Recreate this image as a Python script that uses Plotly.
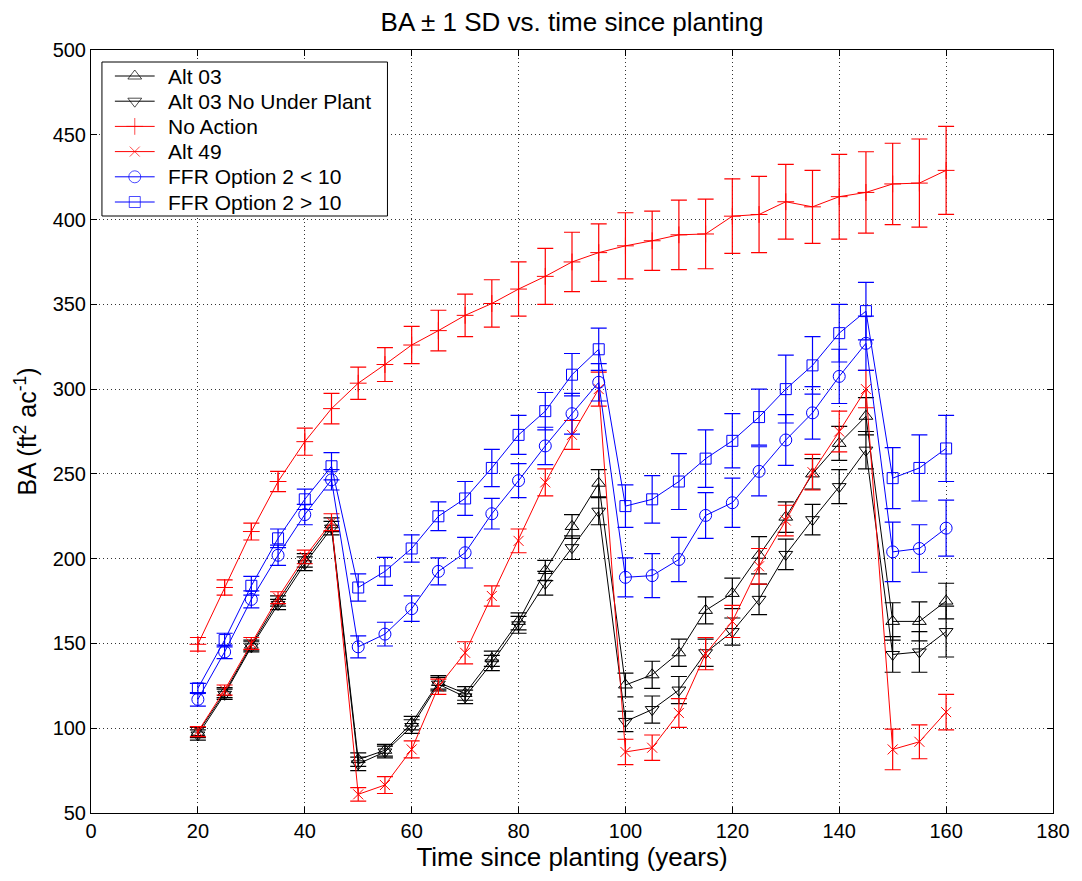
import plotly.graph_objects as go

# Time since planting (years)
years = [20, 25, 30, 35, 40, 45, 50, 55, 60, 65, 70, 75, 80, 85, 90, 95,
         100, 105, 110, 115, 120, 125, 130, 135, 140, 145, 150, 155, 160]

# Mean basal area (ft^2/ac) and one standard deviation for each scenario
alt03 = [97.5, 121, 149, 175, 199, 220, 81.5, 87, 103, 127, 120.5, 141, 163, 193, 219, 244.5,
         125.5, 131.5, 144.5, 169.5, 179.5, 202, 224.5, 250, 268, 284, 163, 163, 175]
alt03_sd = [3, 3, 3, 3, 4, 4, 4, 3.5, 4, 4, 4, 4.5, 5, 6, 7, 8,
            7, 8, 8, 8, 9, 11, 9, 9, 10, 11, 11, 11.5, 10.5]

alt03_nup = [96, 120, 148, 173, 197, 218, 79, 86, 101, 126, 118.5, 138.5, 161, 185.5, 206.5, 228,
             104, 111, 122.5, 144.5, 157, 176, 202.5, 223, 242.5, 264, 143.5, 145, 157]
alt03_nup_sd = [3, 3, 3, 3, 4, 4, 4, 3.5, 4, 4, 4, 4.5, 5, 7, 7, 8,
                6, 8, 8, 8, 8, 9, 9, 9, 10, 11, 10.5, 12, 15]

no_action = [149.5, 183, 216, 245.5, 269, 288.5, 303.5, 314.5, 326, 334.5, 343.5, 350.5, 359, 366.5,
             375, 380.5, 384.5, 387.5, 391, 391.5, 402, 403, 410.5, 407.5, 413.5, 416, 421, 421.5, 429]
no_action_sd = [4, 4.5, 5, 6, 8, 9, 9.5, 10, 11, 12, 12.5, 14, 16, 16.5, 17.5, 17,
                19.5, 17.5, 20.5, 20.5, 22, 22.5, 22, 21.5, 25, 24, 24, 26, 26]

alt49 = [98, 122.5, 150, 177, 201, 221.5, 61, 66.5, 87.5, 124.5, 144.5, 178, 210.5, 245, 273, 300,
         86, 88.5, 109, 144, 163, 195.5, 222.5, 251, 275, 300, 87.5, 92, 109.5]
alt49_sd = [3, 3, 3.5, 3.5, 4, 5, 4, 5, 5, 4.5, 6.5, 6, 7, 8, 8.5, 10,
            7.5, 7.5, 8.5, 9.5, 9.5, 10.5, 9, 10.5, 12, 11, 12, 10, 10.5]

ffr_lt10 = [117, 145, 176, 202, 226, 246.5, 148, 155.5, 170.5, 192.5, 203.5, 226.5, 246, 266.5, 285.5, 304,
            189, 190, 199.5, 225.5, 233, 251.5, 270, 286, 307.5, 327, 204, 206, 218]
ffr_lt10_sd = [4, 4, 5, 6, 6, 6, 6.5, 7, 7.5, 8, 9, 9, 10, 11, 12, 11,
               11.5, 13, 13, 13.5, 14.5, 14.5, 15, 15.5, 16, 16, 17.5, 14, 16.5]

ffr_gt10 = [123.5, 152, 184, 212, 235, 254.5, 183, 192.5, 206, 225, 235.5, 253.5, 273, 287, 308.5, 323.5,
            231, 235, 245.5, 259, 269.5, 283.5, 300, 314, 333, 346, 247.5, 253.5, 265]
ffr_gt10_sd = [3, 4, 5.5, 5.5, 6, 8, 8, 8.3, 8, 8.5, 10, 11, 11.5, 11, 12.5, 12.5,
               12.5, 14, 16.5, 17, 16, 16.5, 20, 17, 17, 17, 18, 19.5, 19.5]

series = [
    ("Alt 03", alt03, alt03_sd, "#000000", "triangle-up-open", 12),
    ("Alt 03 No Under Plant", alt03_nup, alt03_nup_sd, "#000000", "triangle-down-open", 12),
    ("No Action", no_action, no_action_sd, "#ff0000", "cross-thin-open", 12),
    ("Alt 49", alt49, alt49_sd, "#ff0000", "x-thin-open", 10),
    ("FFR Option 2 < 10", ffr_lt10, ffr_lt10_sd, "#0000ff", "circle-open", 12),
    ("FFR Option 2 > 10", ffr_gt10, ffr_gt10_sd, "#0000ff", "square-open", 11),
]

FONT = "Liberation Sans, Arial, sans-serif"

# Plot-area geometry in page pixels (used for the boxed key overlay)
W, H = 1082, 881
L, R, T, B = 91, 24, 50, 68
PX_LEFT, PX_RIGHT = L, W - R
PX_TOP, PX_BOTTOM = T, H - B

fig = go.Figure()
for name, vals, sd, color, symbol, size in series:
    fig.add_trace(go.Scatter(
        x=years, y=vals, name=name, mode="lines+markers", showlegend=False,
        line=dict(color=color, width=1),
        marker=dict(symbol=symbol, size=size, color=color,
                    line=dict(color=color, width=1)),
        error_y=dict(type="data", array=sd, visible=True,
                     color=color, thickness=1.2, width=8),
    ))

# Boxed key drawn on a pixel-scaled overlay axis pair (white panel hides the grid)
key_left, key_right, key_top, key_bottom = 102, 389, 62, 216
row0, row_step = 76, 25.2
line_x0, line_x1, text_x = 115, 155, 166

fig.add_trace(go.Scatter(
    x=[key_left, key_right, key_right, key_left, key_left],
    y=[key_top, key_top, key_bottom, key_bottom, key_top],
    xaxis="x2", yaxis="y2", mode="lines", fill="toself", fillcolor="white",
    line=dict(color="black", width=1), showlegend=False, hoverinfo="skip",
))

for i, (name, vals, sd, color, symbol, size) in enumerate(series):
    ry = row0 + i * row_step
    fig.add_trace(go.Scatter(
        x=[line_x0, (line_x0 + line_x1) / 2, line_x1], y=[ry, ry, ry],
        xaxis="x2", yaxis="y2", mode="lines+markers", showlegend=False,
        hoverinfo="skip",
        line=dict(color=color, width=1),
        marker=dict(symbol=symbol, size=[0, size, 0], color=color,
                    line=dict(color=color, width=1)),
    ))
    fig.add_annotation(x=text_x, y=ry, xref="x2", yref="y2", text=name,
                       showarrow=False, xanchor="left", yanchor="middle",
                       font=dict(family=FONT, size=21, color="black"))

axis_common = dict(
    showline=True, linecolor="black", linewidth=1, mirror="ticks",
    ticks="inside", ticklen=6, tickcolor="black", tickwidth=1,
    showgrid=True, gridcolor="#333333", griddash="1px,3px", gridwidth=1,
    zeroline=False, tickfont=dict(family=FONT, size=20, color="black"),
)

fig.update_layout(
    xaxis=dict(range=[0, 180], dtick=20, tick0=0,
               title=dict(text="Time since planting (years)",
                          font=dict(family=FONT, size=26, color="black"), standoff=2),
               **axis_common),
    yaxis=dict(range=[50, 500], dtick=50, tick0=0,
               title=dict(text="BA (ft<sup>2</sup> ac<sup>-1</sup>)",
                          font=dict(family=FONT, size=25, color="black"), standoff=8),
               **axis_common),
    xaxis2=dict(overlaying="x", range=[PX_LEFT, PX_RIGHT], visible=False, fixedrange=True),
    yaxis2=dict(overlaying="y", range=[PX_BOTTOM, PX_TOP], visible=False, fixedrange=True),
    width=W, height=H,
    margin=dict(l=L, r=R, t=T, b=B, pad=0),
    paper_bgcolor="white", plot_bgcolor="white",
    font=dict(family=FONT, color="black"),
    title=dict(text="BA ± 1 SD vs. time since planting",
               font=dict(family=FONT, size=26, color="black"),
               x=0.5, xref="paper", xanchor="center", y=0.975, yanchor="middle"),
    showlegend=False,
)

fig.write_html("out.html")
